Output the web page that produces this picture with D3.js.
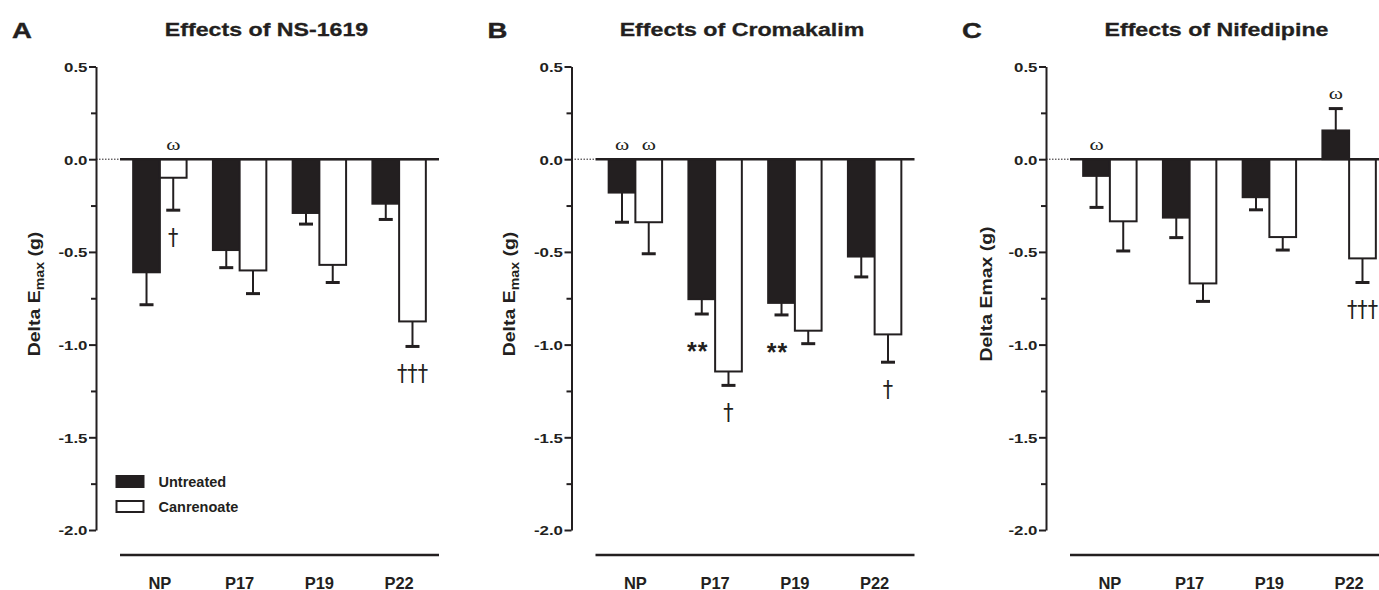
<!DOCTYPE html>
<html>
<head>
<meta charset="utf-8">
<script src="https://cdn.jsdelivr.net/npm/d3@7"></script>
<style>
  html, body { margin: 0; padding: 0; background: #ffffff; }
  svg { display: block; }
</style>
</head>
<body>
<div id="chart"></div>
<script>
// ---------------- DATA ----------------
const categories = ["NP", "P17", "P19", "P22"];
const seriesNames = ["Untreated", "Canrenoate"];
const panelLetters = ["A", "B", "C"];
const panelTitles = ["Effects of NS-1619", "Effects of Cromakalim", "Effects of Nifedipine"];
const yAxisLabelMain = ["Delta E", "Delta E", "Delta Emax"];
const yAxisLabelSub = ["max", "max", ""];
const yAxisLabelTail = " (g)";

const yTickValues = [0.5, 0.0, -0.5, -1.0, -1.5, -2.0];
const yTickLabels = ["0.5", "0.0", "-0.5", "-1.0", "-1.5", "-2.0"];
const yMinorTickValues = [0.25, -0.25, -0.75, -1.25, -1.75];

// Panel A: NS-1619
const ns1619Untreated    = [-0.61, -0.49, -0.29, -0.24];
const ns1619UntreatedSE  = [0.175, 0.095, 0.06, 0.085];
const ns1619Canrenoate   = [-0.10, -0.60, -0.57, -0.875];
const ns1619CanrenoateSE = [0.175, 0.125, 0.095, 0.135];

// Panel B: Cromakalim
const cromakalimUntreated    = [-0.18, -0.755, -0.775, -0.525];
const cromakalimUntreatedSE  = [0.16, 0.08, 0.065, 0.11];
const cromakalimCanrenoate   = [-0.34, -1.145, -0.925, -0.945];
const cromakalimCanrenoateSE = [0.17, 0.075, 0.07, 0.15];

// Panel C: Nifedipine
const nifedipineUntreated    = [-0.09, -0.315, -0.205, 0.155];
const nifedipineUntreatedSE  = [0.17, 0.108, 0.068, 0.118];
const nifedipineCanrenoate   = [-0.335, -0.67, -0.42, -0.535];
const nifedipineCanrenoateSE = [0.16, 0.097, 0.07, 0.13];

// Significance marks: [category, series, symbol]
const ns1619Marks = [["NP", "Canrenoate", "ω"], ["NP", "Canrenoate", "†"], ["P22", "Canrenoate", "†††"]];
const cromakalimMarks = [["NP", "Untreated", "ω"], ["NP", "Canrenoate", "ω"], ["P17", "Untreated", "**"],
                         ["P17", "Canrenoate", "†"], ["P19", "Untreated", "**"], ["P22", "Canrenoate", "†"]];
const nifedipineMarks = [["NP", "Untreated", "ω"], ["P22", "Untreated", "ω"], ["P22", "Canrenoate", "†††"]];

// ---------------- BUILD ----------------
const panels = [
  { vals: [ns1619Untreated, ns1619Canrenoate], se: [ns1619UntreatedSE, ns1619CanrenoateSE], marks: ns1619Marks },
  { vals: [cromakalimUntreated, cromakalimCanrenoate], se: [cromakalimUntreatedSE, cromakalimCanrenoateSE], marks: cromakalimMarks },
  { vals: [nifedipineUntreated, nifedipineCanrenoate], se: [nifedipineUntreatedSE, nifedipineCanrenoateSE], marks: nifedipineMarks }
];

const W = 1379, H = 590;
const INK = "#231f20";
const SANS = "'Liberation Sans', Arial, Helvetica, sans-serif";
const SERIF = "'Liberation Serif', 'Times New Roman', serif";
const DAG = "'DejaVu Sans', sans-serif";
const axisXs = [96, 571.5, 1046];
const yLabelBaseline = [39.5, 515, 991.5];

const svg = d3.select("#chart").append("svg")
  .attr("width", W).attr("height", H)
  .attr("viewBox", `0 0 ${W} ${H}`);

const y = d3.scaleLinear().domain([-2, 0.5]).range([530, 66.5]);

panels.forEach((p, pi) => {
  const ax = axisXs[pi];
  const g = svg.append("g");

  const x0 = d3.scaleBand().domain(categories)
    .range([ax + 24, ax + 343]).paddingInner(0.33).paddingOuter(0.165);
  const x1 = d3.scaleBand().domain(seriesNames).range([0, x0.bandwidth()]);

  // panel letter
  g.append("text")
    .attr("transform", `translate(${ax - 84},37.5) scale(1.25,1)`)
    .attr("font-family", SANS).attr("font-weight", "bold").attr("font-size", 22)
    .attr("fill", INK).attr("stroke", INK).attr("stroke-width", 0.4)
    .text(panelLetters[pi]);

  // title
  g.append("text")
    .attr("transform", `translate(${ax + 170.5},35.5) scale(1.22,1)`)
    .attr("text-anchor", "middle")
    .attr("font-family", SANS).attr("font-weight", "bold").attr("font-size", 19)
    .attr("fill", INK).attr("stroke", INK).attr("stroke-width", 0.3)
    .text(panelTitles[pi]);

  // y axis label
  const yl = g.append("text")
    .attr("transform", `translate(${yLabelBaseline[pi]},294) rotate(-90) scale(1.18,1)`)
    .attr("text-anchor", "middle")
    .attr("font-family", SANS).attr("font-weight", "bold").attr("font-size", 16.5)
    .attr("fill", INK);
  yl.append("tspan").text(yAxisLabelMain[pi]);
  if (yAxisLabelSub[pi]) {
    yl.append("tspan").attr("font-size", 12).attr("dy", 4).text(yAxisLabelSub[pi]);
    yl.append("tspan").attr("dy", -4).text(yAxisLabelTail);
  } else {
    yl.append("tspan").text(yAxisLabelTail);
  }

  // y axis (major)
  const axG = g.append("g").attr("transform", `translate(${ax},0)`)
    .call(d3.axisLeft(y).tickValues(yTickValues)
      .tickFormat((d, i) => yTickLabels[i]).tickSize(7).tickSizeOuter(0));
  axG.select(".domain").attr("stroke", INK).attr("stroke-width", 2);
  axG.selectAll(".tick line").attr("stroke", INK).attr("stroke-width", 2);
  axG.selectAll(".tick text")
    .attr("x", null).attr("dy", null)
    .attr("transform", "translate(-8.5,4.8) scale(1.25,1)")
    .attr("font-family", SANS).attr("font-weight", "bold").attr("font-size", 13.5)
    .attr("fill", INK);
  // minor ticks
  const mG = g.append("g").attr("transform", `translate(${ax},0)`)
    .call(d3.axisLeft(y).tickValues(yMinorTickValues).tickFormat("").tickSize(5).tickSizeOuter(0));
  mG.select(".domain").remove();
  mG.selectAll(".tick line").attr("stroke", INK).attr("stroke-width", 2);

  // dotted zero segment from axis to plot start
  const [r0, r1] = x0.range();
  g.append("line").attr("x1", ax).attr("x2", r0).attr("y1", y(0)).attr("y2", y(0))
    .attr("stroke", INK).attr("stroke-width", 1).attr("stroke-dasharray", "1.5,1.5");

  // bottom category line
  g.append("line").attr("x1", r0).attr("x2", r1).attr("y1", 555).attr("y2", 555)
    .attr("stroke", INK).attr("stroke-width", 2.5);

  // category labels
  g.selectAll(".cat").data(categories).enter().append("text")
    .attr("x", d => x0(d) + x0.bandwidth() / 2).attr("y", 588.5)
    .attr("text-anchor", "middle")
    .attr("font-family", SANS).attr("font-weight", "bold").attr("font-size", 16.5)
    .attr("fill", INK).text(d => d);

  // bars data
  const rows = [];
  categories.forEach((c, ci) => {
    seriesNames.forEach((s, si) => {
      rows.push({ c, s, si, v: p.vals[si][ci], e: p.se[si][ci] });
    });
  });
  const bx = d => x0(d.c) + x1(d.s);
  const bw = x1.bandwidth();

  // error bars (drawn before bars, on side away from zero)
  const eg = g.append("g");
  rows.forEach(d => {
    const cx = bx(d) + bw / 2;
    const end = d.v >= 0 ? d.v + d.e : d.v - d.e;
    eg.append("line").attr("x1", cx).attr("x2", cx).attr("y1", y(d.v)).attr("y2", y(end))
      .attr("stroke", INK).attr("stroke-width", 2);
    eg.append("line").attr("x1", cx - 7).attr("x2", cx + 7).attr("y1", y(end)).attr("y2", y(end))
      .attr("stroke", INK).attr("stroke-width", 3);
  });

  g.selectAll(".bar").data(rows).enter().append("rect")
    .attr("x", bx).attr("width", bw)
    .attr("y", d => y(Math.max(0, d.v)))
    .attr("height", d => Math.abs(y(d.v) - y(0)))
    .attr("fill", d => d.si === 0 ? INK : "#ffffff")
    .attr("stroke", INK).attr("stroke-width", 2);

  // zero line
  g.append("line").attr("x1", r0).attr("x2", r1).attr("y1", y(0)).attr("y2", y(0))
    .attr("stroke", INK).attr("stroke-width", 2.5);

  // significance marks
  p.marks.forEach(([c, s, sym]) => {
    const d = rows.find(r => r.c === c && r.s === s);
    const cx = bx(d) + bw / 2;
    const top = Math.max(0, d.v + (d.v >= 0 ? d.e : 0));
    const bottom = d.v - d.e;
    if (sym === "ω") {
      g.append("text").attr("transform", `translate(${cx},${y(top) - 9.5}) scale(1.35,1)`)
        .attr("text-anchor", "middle").attr("font-family", SERIF).attr("font-size", 16)
        .attr("fill", INK).text(sym);
    } else if (sym === "**") {
      g.append("text").attr("x", cx - 4).attr("y", y(bottom) + 46)
        .attr("text-anchor", "middle").attr("font-family", SANS).attr("font-weight", "bold")
        .attr("font-size", 25).attr("letter-spacing", 1).attr("fill", INK).text(sym);
    } else {
      g.append("text").attr("transform", `translate(${cx},${y(bottom) + 35}) scale(0.9,1)`)
        .attr("text-anchor", "middle").attr("font-family", DAG)
        .attr("font-size", 23).attr("fill", INK).text(sym);
    }
  });

  // legend (panel A only)
  if (pi === 0) {
    const lg = g.append("g");
    seriesNames.forEach((s, si) => {
      const ly = 476 + si * 25;
      lg.append("rect").attr("x", 116.5).attr("y", ly).attr("width", 27).attr("height", 11)
        .attr("fill", si === 0 ? INK : "#ffffff").attr("stroke", INK).attr("stroke-width", 2);
      lg.append("text").attr("x", 158.5).attr("y", ly + 11)
        .attr("font-family", SANS).attr("font-weight", "bold").attr("font-size", 14.5)
        .attr("fill", INK).text(s);
    });
  }
});
</script>
</body>
</html>
